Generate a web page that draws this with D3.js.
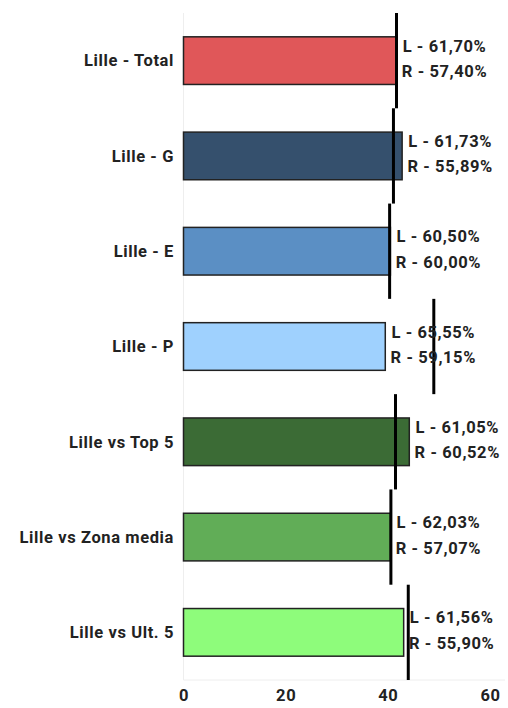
<!DOCTYPE html>
<html>
<head>
<meta charset="utf-8">
<script src="https://cdn.jsdelivr.net/npm/d3@7"></script>
<style>
  html, body { margin: 0; padding: 0; background: #fff; }
  svg text { font-family: "Roboto", "Liberation Sans", "DejaVu Sans", sans-serif; font-weight: bold; fill: #222; letter-spacing: 0.6px; }
</style>
</head>
<body>
<svg id="chart" width="508" height="708"></svg>
<script>
const categories = ["Lille - Total", "Lille - G", "Lille - E", "Lille - P", "Lille vs Top 5", "Lille vs Zona media", "Lille vs Ult. 5"];
const barValues = [41.7, 42.8, 40.5, 39.5, 44.2, 40.5, 43.1];
const markerValues = [41.7, 41.1, 40.35, 49.0, 41.5, 40.6, 44.0];
const labelL = ["61,70%", "61,73%", "60,50%", "65,55%", "61,05%", "62,03%", "61,56%"];
const labelR = ["57,40%", "55,89%", "60,00%", "59,15%", "60,52%", "57,07%", "55,90%"];
const colors = ["#e05759", "#35506d", "#5b8fc4", "#9fd1fe", "#3b6b35", "#61ad57", "#8efc7b"];
const xTicks = [0, 20, 40, 60];

(function () {
const svg = d3.select("#chart");
const mLeft = 183.5, mRight = 490, mTop = 13, mBottom = 680;
const fs = 16.5;

const x = d3.scaleLinear().domain([0, 60]).range([mLeft, mRight]);
const y = d3.scaleBand().domain(categories).range([mTop, mBottom]).paddingInner(0.5).paddingOuter(0.25);
const yFull = d3.scaleBand().domain(categories).range([mTop, mBottom]);

// faint baseline grid
svg.append("line").attr("x1", x(0)).attr("x2", x(0)).attr("y1", 13).attr("y2", mBottom)
  .attr("stroke", "#eeeeee").attr("stroke-width", 1);
svg.append("line").attr("x1", x(0)).attr("x2", 505).attr("y1", mBottom).attr("y2", mBottom)
  .attr("stroke", "#eeeeee").attr("stroke-width", 1);

// bars
svg.selectAll("rect.bar").data(categories).join("rect")
  .attr("class", "bar")
  .attr("x", x(0))
  .attr("y", d => y(d))
  .attr("width", (d, i) => x(barValues[i]) - x(0))
  .attr("height", y.bandwidth())
  .attr("fill", (d, i) => colors[i])
  .attr("stroke", "#222")
  .attr("stroke-width", 1.5);

// markers
svg.selectAll("line.marker").data(categories).join("line")
  .attr("class", "marker")
  .attr("x1", (d, i) => x(markerValues[i]))
  .attr("x2", (d, i) => x(markerValues[i]))
  .attr("y1", d => yFull(d))
  .attr("y2", d => yFull(d) + yFull.bandwidth())
  .attr("stroke", "#000")
  .attr("stroke-width", 3);

// value labels
const lab = svg.selectAll("g.vlab").data(categories).join("g")
  .attr("class", "vlab")
  .attr("transform", (d, i) => `translate(${x(barValues[i]) + 48},${y(d) + y.bandwidth() / 2})`);
lab.append("text").attr("text-anchor", "middle").attr("y", -9).attr("font-size", fs)
  .text((d, i) => "L - " + labelL[i]);
lab.append("text").attr("text-anchor", "middle").attr("y", 16.5).attr("font-size", fs)
  .text((d, i) => "R - " + labelR[i]);

// category labels
svg.selectAll("text.cat").data(categories).join("text")
  .attr("class", "cat")
  .attr("x", 174)
  .attr("y", d => y(d) + y.bandwidth() / 2)
  .attr("dy", "0.35em")
  .attr("text-anchor", "end")
  .attr("font-size", fs)
  .text(d => d);

// x axis
const xAxis = d3.axisBottom(x).tickValues(xTicks).tickSize(0).tickPadding(0);
const gx = svg.append("g").attr("transform", `translate(0,${mBottom})`).call(xAxis);
gx.select(".domain").remove();
gx.selectAll("text").attr("font-size", fs).attr("dy", "1.3em").attr("font-family", null);
})();
</script>
</body>
</html>
